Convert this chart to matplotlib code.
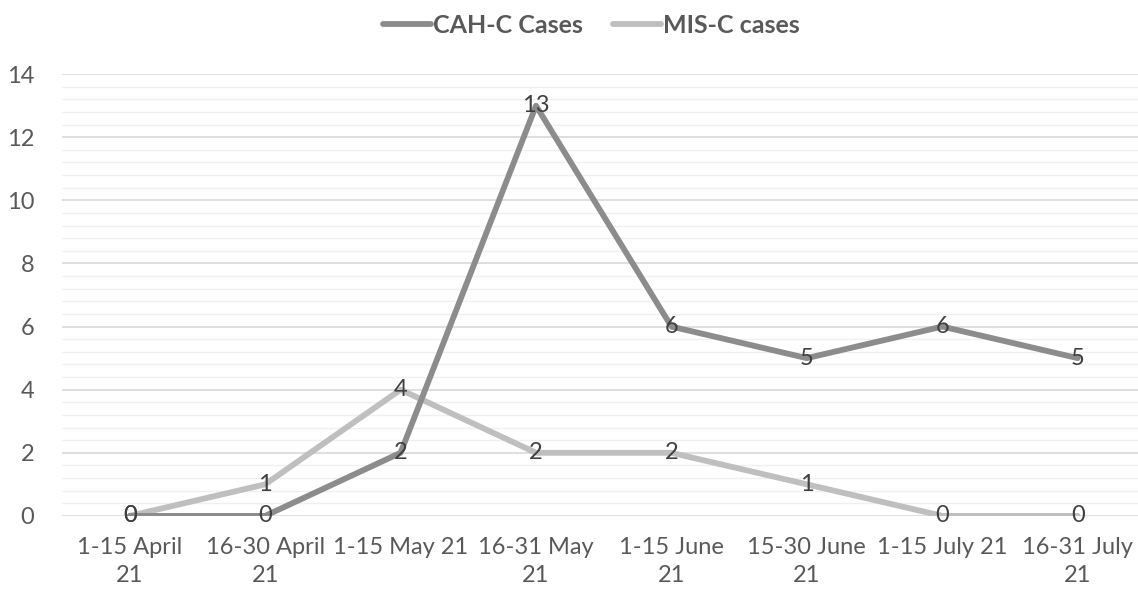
import numpy as np
import matplotlib.pyplot as plt
from matplotlib.ticker import MultipleLocator

plt.rcParams['font.family'] = ['Lato', 'DejaVu Sans']

periods = ["1-15 April\n21", "16-30 April\n21", "1-15 May 21", "16-31 May\n21",
           "1-15 June\n21", "15-30 June\n21", "1-15 July 21", "16-31 July\n21"]
cah_c = [0, 0, 2, 13, 6, 5, 6, 5]
mis_c = [0, 1, 4, 2, 2, 1, 0, 0]

x = np.arange(len(periods))
fs = 17

fig = plt.figure(figsize=(11.38, 5.93), dpi=100)
ax = fig.add_axes([0.0545, 0.130, 0.952, 0.745])

ax.plot(x, mis_c, color="#bfbfbf", lw=4.2, solid_capstyle="round",
        solid_joinstyle="round", label="MIS-C cases", zorder=3)
ax.plot(x, cah_c, color="#8c8c8c", lw=4.2, solid_capstyle="round",
        solid_joinstyle="round", label="CAH-C Cases", zorder=4)

for xi, v in zip(x, mis_c):
    ax.text(xi, v, str(v), ha="center", va="center", fontsize=fs, color="#404040", zorder=6)
for xi, v in zip(x, cah_c):
    ax.text(xi, v, str(v), ha="center", va="center", fontsize=fs, color="#404040", zorder=6)

ax.set_xlim(-0.5, 7.5)
ax.set_ylim(0, 14)
ax.yaxis.set_major_locator(MultipleLocator(2))
ax.yaxis.set_minor_locator(MultipleLocator(0.4))
ax.set_xticks(x)
ax.set_xticklabels(periods, linespacing=1.45)
ax.tick_params(axis="both", which="both", length=0, labelsize=fs, colors="#595959")
ax.tick_params(axis="x", pad=15)
ax.tick_params(axis="y", pad=20)

ax.grid(axis="y", which="major", color="#d9d9d9", lw=1.2)
ax.grid(axis="y", which="minor", color="#f0f0f0", lw=1)
ax.set_axisbelow(True)
for s in ax.spines.values():
    s.set_visible(False)

handles, labels = ax.get_legend_handles_labels()
leg = fig.legend(handles[::-1], labels[::-1], loc="upper center", bbox_to_anchor=(0.52, 1.015),
                 ncol=2, frameon=False, handlelength=1.9, columnspacing=1.2,
                 handletextpad=0.1, prop={"size": 18, "weight": "bold"})
for t in leg.get_texts():
    t.set_color("#595959")

fig.savefig("out.png", dpi=100)
